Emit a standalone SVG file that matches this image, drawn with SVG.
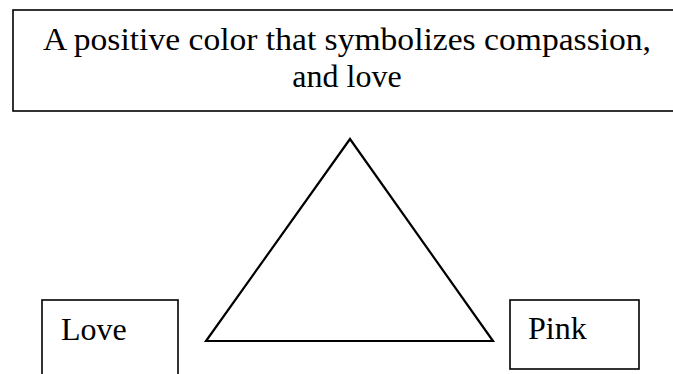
<svg xmlns="http://www.w3.org/2000/svg" width="673" height="374" viewBox="0 0 673 374">
<style>
.box{fill:#fff;stroke:#000;stroke-width:1.6}
.t{font-family:"Liberation Serif","Times New Roman",serif;font-size:32px;fill:#000}
</style>
<rect width="673" height="374" fill="#fff"/>
<g id="top">
<rect class="box" x="13" y="10" width="670" height="101"/>
<text class="t" x="347" y="50" text-anchor="middle" textLength="608" lengthAdjust="spacingAndGlyphs">A positive color that symbolizes compassion,</text>
<text class="t" x="347" y="87" text-anchor="middle">and love</text>
</g>
<g id="triangle">
<polygon points="350,139 206,341 493,341" fill="#fff" stroke="#000" stroke-width="2.2" stroke-linejoin="miter"/>
</g>
<g id="love">
<rect class="box" x="42" y="300" width="136" height="80"/>
<text class="t" x="61" y="340">Love</text>
</g>
<g id="pink">
<rect class="box" x="510" y="300" width="129" height="69"/>
<text class="t" x="528" y="339">Pink</text>
</g>
<g id="connectors"></g>
</svg>
